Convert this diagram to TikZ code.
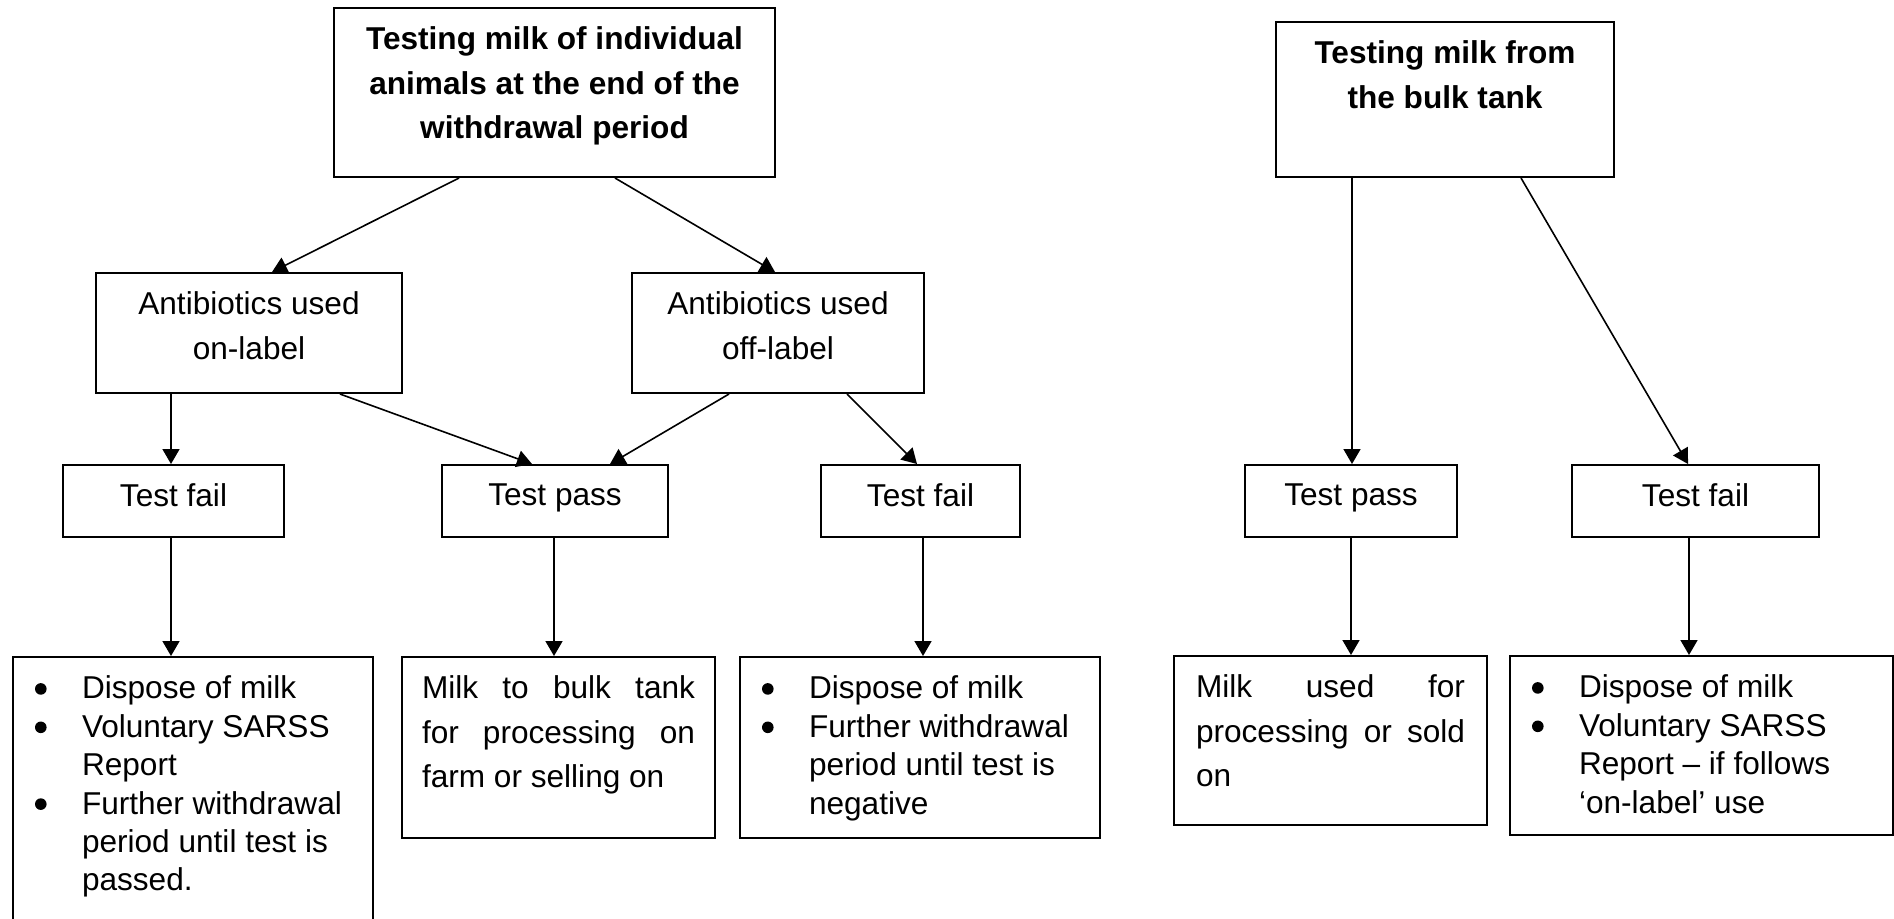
\documentclass[tikz,border=0pt]{standalone}
\usepackage{fontspec}
\setmainfont{Liberation Sans}
\usetikzlibrary{arrows.meta}

\newcommand{\carte}[3]{\parbox[c][#2][t]{#1}{\vspace*{9.5pt}#3}}
\newcommand{\puce}[1]{\par\noindent\hangindent=23.5pt\hangafter=1%
	\makebox[23.5pt][l]{\tikz[baseline=-5pt]\fill (0,0) circle (2.9pt);}#1}
\newcommand{\justif}[1]{\makebox[\linewidth][s]{#1}\par}

\begin{document}
\begin{tikzpicture}[x=0.5pt, y=-0.5pt]
	% STYLES
	\tikzstyle{boite} = [draw, line width=1pt, inner ysep=0pt, inner xsep=10pt,
		font=\fontsize{15.8}{22.2}\selectfont]
	\tikzstyle{liste} = [boite, inner xsep=11pt, font=\fontsize{15.8}{19.2}\selectfont]
	\tikzstyle{fleche} = [line width=0.8pt, -{Triangle[length=7.5pt, width=8.5pt]}]

	\useasboundingbox (0, 0) rectangle (1894, 918);

	% TITRES
	\node[boite] (indiv) at (554.5, 92.5)
		{\carte{200.5pt}{84.5pt}{\centering\bfseries Testing milk of individual\\animals at the end of the\\withdrawal period}};
	\node[boite] (vrac) at (1445, 99.5)
		{\carte{149pt}{77.5pt}{\centering\bfseries Testing milk from\\the bulk tank}};

	% ANTIBIOTIQUES
	\node[boite] (on) at (249, 333)
		{\carte{133pt}{60pt}{\centering Antibiotics used\\on-label}};
	\node[boite] (off) at (778, 333)
		{\carte{126pt}{60pt}{\centering Antibiotics used\\off-label}};

	% TESTS
	\node[boite] (failA) at (173.5, 501) {\carte{90.5pt}{36pt}{\centering Test fail}};
	\node[boite] (passA) at (555, 501) {\carte{93pt}{36pt}{\centering Test pass}};
	\node[boite] (failB) at (920.5, 501) {\carte{79.5pt}{36pt}{\centering Test fail}};
	\node[boite] (passB) at (1351, 501) {\carte{86pt}{36pt}{\centering Test pass}};
	\node[boite] (failC) at (1695.5, 501) {\carte{103.5pt}{36pt}{\centering Test fail}};

	% RESULTATS
	\node[liste] (outA) at (193, 807)
		{\carte{158pt}{150pt}{\raggedright
			\puce{Dispose of milk}
			\puce{Voluntary SARSS\newline Report}
			\puce{Further withdrawal\newline period until test is\newline passed.}}};
	\node[boite] (outB) at (558.5, 747.5)
		{\carte{136.5pt}{90.5pt}{\justif{Milk to bulk tank}\justif{for processing on}farm or selling on}};
	\node[liste] (outC) at (920, 747.5)
		{\carte{158pt}{90.5pt}{\raggedright
			\puce{Dispose of milk}
			\puce{Further withdrawal\newline period until test is\newline negative}}};
	\node[boite, inner xsep=11pt] (outD) at (1330.5, 740.5)
		{\carte{134.5pt}{84.5pt}{\justif{Milk used for}\justif{processing or sold}on}};
	\node[liste] (outE) at (1701.5, 745.5)
		{\carte{169.5pt}{89.5pt}{\raggedright
			\puce{Dispose of milk}
			\puce{Voluntary SARSS\newline Report – if follows\newline ‘on-label’ use}}};

	% FLECHES
	\draw[fleche] ([xshift=-47.75pt]indiv.south) -- ([xshift=11.5pt]on.north);
	\draw[fleche] ([xshift=30.25pt]indiv.south) -- ([xshift=-1.5pt]off.north);
	\draw[fleche] ([xshift=-39pt]on.south) -- ([xshift=-1.25pt]failA.north);
	\draw[fleche] ([xshift=45.5pt]on.south) -- ([xshift=-11.5pt]passA.north);
	\draw[fleche] ([xshift=-24.5pt]off.south) -- ([xshift=27.5pt]passA.north);
	\draw[fleche] ([xshift=34.5pt]off.south) -- ([xshift=-1.75pt]failB.north);
	\draw[fleche] ([xshift=-1.25pt]failA.south) -- ([xshift=-11pt]outA.north);
	\draw[fleche] ([xshift=-0.5pt]passA.south) -- ([xshift=-2.25pt]outB.north);
	\draw[fleche] ([xshift=1.25pt]failB.south) -- ([xshift=1.5pt]outC.north);
	\draw[fleche] ([xshift=-46.5pt]vrac.south) -- ([xshift=0.5pt]passB.north);
	\draw[fleche] ([xshift=38pt]vrac.south) -- ([xshift=-3.75pt]failC.north);
	\draw[fleche] (passB.south) -- ([xshift=10.25pt]outD.north);
	\draw[fleche] ([xshift=-3.25pt]failC.south) -- ([xshift=-6.25pt]outE.north);
\end{tikzpicture}
\end{document}
